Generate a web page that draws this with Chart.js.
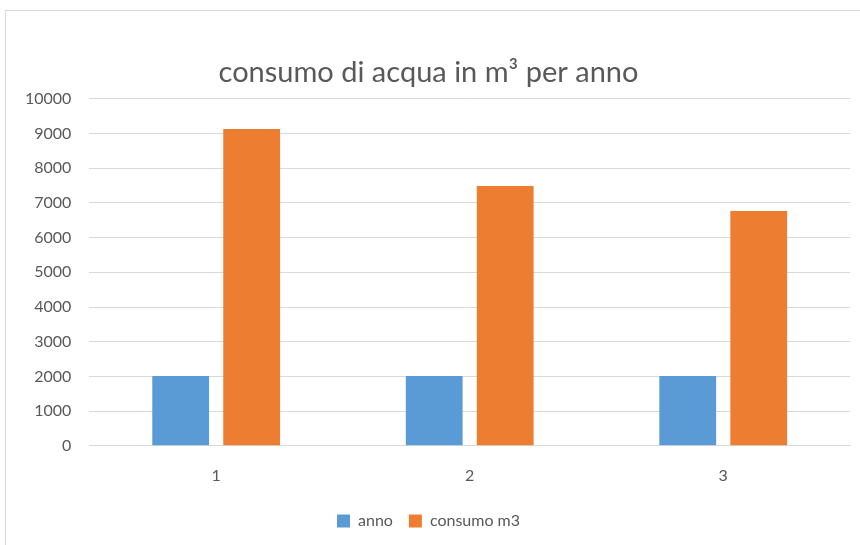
<!DOCTYPE html>
<html>
<head>
<meta charset="utf-8">
<script src="https://cdn.jsdelivr.net/npm/chart.js@4"></script>
<style>
  html, body { margin: 0; padding: 0; background: #fff; }
  #frame { position: absolute; left: 5px; top: 10px; width: 900px; height: 600px; border: 1px solid #d9d9d9; }
  #wrap { position: absolute; left: 0; top: 0; width: 860px; height: 545px; }
</style>
</head>
<body>
<div id="frame"></div>
<div id="wrap"><canvas id="chart"></canvas></div>
<script>
const categories = ['1', '2', '3'];
const anno = [2010, 2011, 2012];
const consumo = [9130, 7490, 6770];

const grey = '#595959';
const font = 'Lato, "Open Sans", sans-serif';

new Chart(document.getElementById('chart'), {
    type: 'bar',
    data: {
        labels: categories,
        datasets: [{
            label: 'anno',
            data: anno,
            backgroundColor: '#5b9bd5',
            borderWidth: 0,
            categoryPercentage: 0.56,
            barPercentage: 0.8
        }, {
            label: 'consumo m3',
            data: consumo,
            backgroundColor: '#ed7d31',
            borderWidth: 0,
            categoryPercentage: 0.56,
            barPercentage: 0.8
        }]
    },
    options: {
        responsive: true,
        maintainAspectRatio: false,
        animation: false,
        layout: { padding: { left: 7, right: 10, top: 55, bottom: 6 } },
        plugins: {
            title: {
                display: true,
                text: 'consumo di acqua in m³ per anno',
                color: grey,
                font: { family: font, size: 29, weight: 'normal' },
                padding: { top: 0, bottom: 9 }
            },
            legend: {
                position: 'bottom',
                labels: {
                    color: grey,
                    font: { family: font, size: 16 },
                    boxWidth: 13,
                    boxHeight: 13,
                    padding: 16
                }
            },
            tooltip: { enabled: false }
        },
        scales: {
            x: {
                grid: { display: false },
                border: { color: '#d9d9d9' },
                ticks: { color: grey, font: { family: font, size: 16 }, padding: 12 }
            },
            y: {
                min: 0,
                max: 10000,
                ticks: {
                    stepSize: 1000,
                    color: grey,
                    font: { family: font, size: 16 },
                    padding: 18,
                    callback: v => String(v)
                },
                grid: { color: '#d9d9d9', drawTicks: false },
                border: { display: false }
            }
        }
    }
});
</script>
</body>
</html>
